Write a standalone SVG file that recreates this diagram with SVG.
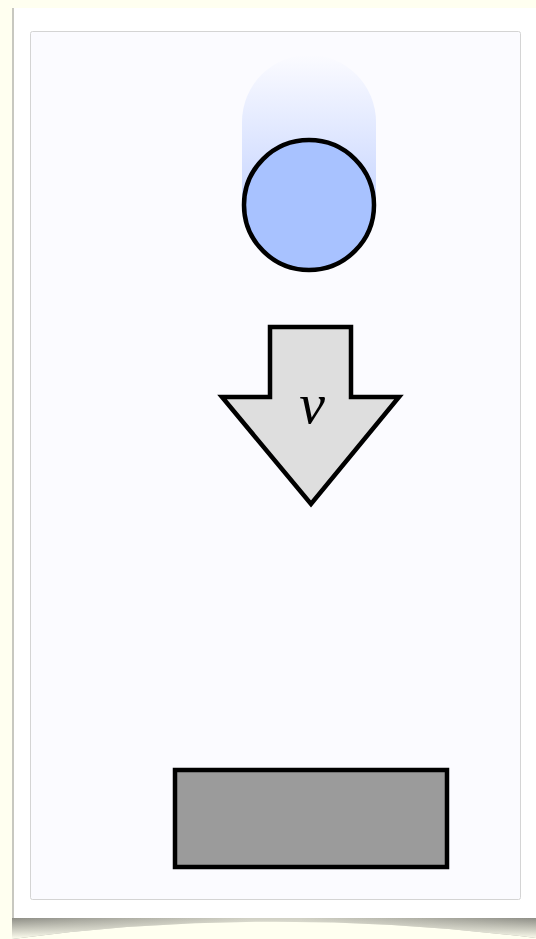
<svg xmlns="http://www.w3.org/2000/svg" width="536" height="939" viewBox="0 0 536 939">
<style>
.ink{stroke:#000;stroke-width:4.5;stroke-linejoin:miter}
.lbl{font-family:"Liberation Serif","DejaVu Serif",serif;font-style:italic;font-size:58px;fill:#000}
</style>
<defs>
<linearGradient id="trail" x1="0" y1="0" x2="0" y2="1">
<stop offset="0" stop-color="#c8d6ff" stop-opacity="0"/>
<stop offset="1" stop-color="#c8d6ff" stop-opacity="1"/>
</linearGradient>
<linearGradient id="shadowL" x1="0" y1="0" x2="1" y2="0">
<stop offset="0" stop-color="#8e8e86"/>
<stop offset="0.45" stop-color="#d0d0c4"/>
<stop offset="0.55" stop-color="#d0d0c4"/>
<stop offset="1" stop-color="#8e8e86"/>
</linearGradient>
<linearGradient id="shadowV" x1="0" y1="0" x2="0" y2="1">
<stop offset="0" stop-color="#fffff0" stop-opacity="0"/>
<stop offset="1" stop-color="#fffff0" stop-opacity="1"/>
</linearGradient>
</defs>
<rect width="536" height="939" fill="#fffff0"/>
<g id="paper">
<path d="M12 918 L536 918 L536 938 Q270 905 12 939 Z" fill="url(#shadowL)"/>
<path d="M12 918 L536 918 L536 938 Q270 905 12 939 Z" fill="url(#shadowV)"/>
<rect x="12" y="8" width="530" height="910" fill="#ffffff"/>
<rect x="12" y="8" width="2" height="910" fill="#c8c8c0"/>
<rect x="30.5" y="31.5" width="490" height="868" rx="2" fill="#fbfbff" stroke="#d4d4d4" stroke-width="1"/>
</g>
<g id="ball">
<path d="M242 205 L242 122 A67 67 0 0 1 376 122 L376 205 Z" fill="url(#trail)"/>
<circle cx="309" cy="205" r="65" fill="#a8c2ff" class="ink"/>
</g>
<g id="velocity">
<polygon points="270,327 351,327 351,397 399,397 311,504 222,397 270,397" fill="#dedede" class="ink"/>
<text x="312" y="423" text-anchor="middle" class="lbl">v</text>
</g>
<g id="block">
<rect x="175" y="770" width="272" height="97" fill="#9b9b9b" class="ink"/>
</g>
<g id="connectors"/>
</svg>
